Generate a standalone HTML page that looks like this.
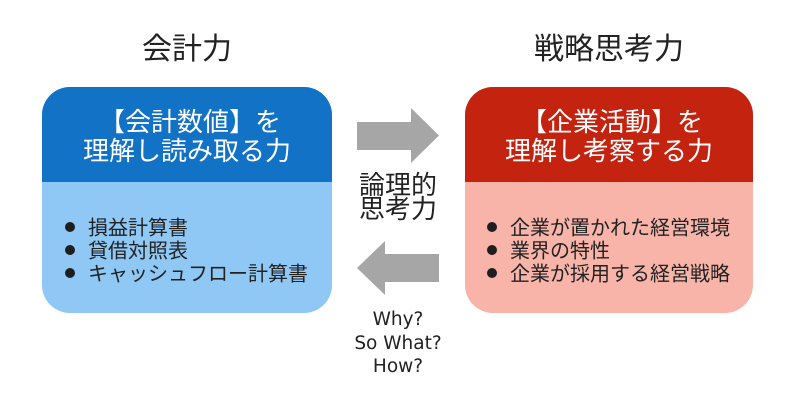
<!DOCTYPE html>
<html><head><meta charset="utf-8"><style>
html,body{margin:0;padding:0;background:#fff;}
svg{display:block;}
.jp{font-family:"Liberation Sans","Noto Sans CJK JP",sans-serif;}
</style></head><body>
<svg width="800" height="400" viewBox="0 0 800 400" xmlns="http://www.w3.org/2000/svg">
<rect width="800" height="400" fill="#fff"/>
<!-- titles -->
<text class="jp" x="187" y="59" font-size="30" fill="#222" text-anchor="middle">会計力</text>
<text class="jp" x="609" y="59" font-size="30" fill="#222" text-anchor="middle">戦略思考力</text>

<!-- left box -->
<rect x="42" y="87" width="290" height="226" rx="28" ry="28" fill="#8FC8F5"/>
<path d="M42,182 V115 A28,28 0 0 1 70,87 H304 A28,28 0 0 1 332,115 V182 Z" fill="#1272C6"/>
<text class="jp" x="190" y="131" font-size="26" fill="#fff" text-anchor="middle">【会計数値】を</text>
<text class="jp" x="187" y="160" font-size="26" fill="#fff" text-anchor="middle">理解し読み取る力</text>
<circle cx="70" cy="227" r="5" fill="#1e1e1e"/>
<circle cx="70" cy="250" r="5" fill="#1e1e1e"/>
<circle cx="70" cy="273" r="5" fill="#1e1e1e"/>
<text class="jp" x="88" y="234.5" font-size="20" fill="#222">損益計算書</text>
<text class="jp" x="88" y="257.5" font-size="20" fill="#222">貸借対照表</text>
<text class="jp" x="88" y="280.5" font-size="20" fill="#222">キャッシュフロー計算書</text>

<!-- right box -->
<rect x="465" y="87" width="288" height="226" rx="28" ry="28" fill="#F8B4A9"/>
<path d="M465,182 V115 A28,28 0 0 1 493,87 H725 A28,28 0 0 1 753,115 V182 Z" fill="#C3230F"/>
<text class="jp" x="612" y="131" font-size="26" fill="#fff" text-anchor="middle">【企業活動】を</text>
<text class="jp" x="609" y="160" font-size="26" fill="#fff" text-anchor="middle">理解し考察する力</text>
<circle cx="492" cy="227" r="5" fill="#1e1e1e"/>
<circle cx="492" cy="250" r="5" fill="#1e1e1e"/>
<circle cx="492" cy="273" r="5" fill="#1e1e1e"/>
<text class="jp" x="510" y="234.5" font-size="20" fill="#222">企業が置かれた経営環境</text>
<text class="jp" x="510" y="257.5" font-size="20" fill="#222">業界の特性</text>
<text class="jp" x="510" y="280.5" font-size="20" fill="#222">企業が採用する経営戦略</text>

<!-- arrows -->
<polygon points="357,122 411,122 411,108 439,135.5 411,163 411,150 357,150" fill="#A6A6A6"/>
<polygon points="439,254 385,254 385,241 357,268 385,295 385,282 439,282" fill="#A6A6A6"/>

<!-- middle text -->
<text class="jp" x="398" y="194" font-size="26" fill="#222" text-anchor="middle">論理的</text>
<text class="jp" x="398" y="218" font-size="26" fill="#222" text-anchor="middle">思考力</text>
<text x="398" y="325" font-size="18.5" fill="#222" text-anchor="middle" font-family="DejaVu Sans, sans-serif">Why?</text>
<text x="398" y="349" font-size="18.5" fill="#222" text-anchor="middle" font-family="DejaVu Sans, sans-serif">So What?</text>
<text x="398" y="372" font-size="18.5" fill="#222" text-anchor="middle" font-family="DejaVu Sans, sans-serif">How?</text>
</svg>
</body></html>
